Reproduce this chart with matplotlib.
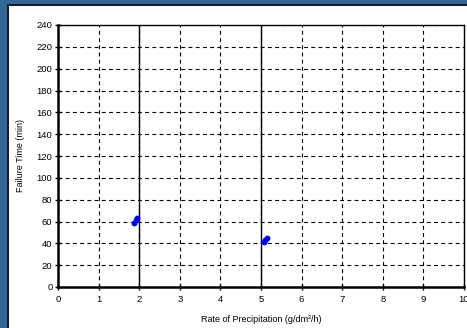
import matplotlib.pyplot as plt
from matplotlib.patches import Rectangle

# data
rate_a = [1.88, 1.91, 1.94]
time_a = [59, 61, 63]
rate_b = [5.08, 5.11, 5.14]
time_b = [41, 43, 45]
limit_lines = [2, 5]

x_ticks = list(range(0, 11))
y_ticks = list(range(0, 241, 20))

plt.rcParams['font.family'] = ['Liberation Sans', 'DejaVu Sans']

fig = plt.figure(figsize=(4.67, 3.28), dpi=100)
fig.patch.set_facecolor('white')

# blue frame strips (left and top)
fig.patches.append(Rectangle((0, 0), 7 / 467, 1, transform=fig.transFigure,
                             facecolor='#2f6597', edgecolor='none', zorder=0))
fig.patches.append(Rectangle((0, 1 - 4 / 328), 1, 4 / 328, transform=fig.transFigure,
                             facecolor='#2f6597', edgecolor='none', zorder=0))
fig.patches.append(Rectangle((7 / 467, 0), 1.5 / 467, 1 - 4 / 328, transform=fig.transFigure,
                             facecolor='#1a1a2a', edgecolor='none', zorder=0))
fig.patches.append(Rectangle((7 / 467, 1 - 5.5 / 328), 1, 1.5 / 328, transform=fig.transFigure,
                             facecolor='#1a1a2a', edgecolor='none', zorder=0))

ax = fig.add_axes([58 / 467, 1 - 287 / 328, (464 - 58) / 467, (287 - 25) / 328])

ax.plot(rate_a, time_a, 'o', color='#0000ff', markersize=3.2, zorder=5, clip_on=False)
ax.plot(rate_b, time_b, 'o', color='#0000ff', markersize=3.2, zorder=5, clip_on=False)
for xv in limit_lines:
    ax.axvline(xv, color='black', linewidth=1.0, zorder=3)

ax.set_xlim(0, 10)
ax.set_ylim(0, 240)
ax.set_xticks(x_ticks)
ax.set_yticks(y_ticks)
ax.grid(True, color='black', linestyle=(0, (3.5, 3)), linewidth=0.8)
ax.set_axisbelow(True)

ax.tick_params(labelsize=6.8, direction='inout', length=4, width=1, pad=2)
ax.tick_params(axis='x', pad=4)
for side in ['left', 'bottom']:
    ax.spines[side].set_linewidth(1.8)
for side in ['top', 'right']:
    ax.spines[side].set_linewidth(1.0)

ax.set_xlabel('Rate of Precipitation (g/dm\u00b2/h)', fontsize=6.5, labelpad=8)
ax.set_ylabel('Failure Time (min)', fontsize=6.5, labelpad=8)

fig.savefig('out.png', dpi=100)
